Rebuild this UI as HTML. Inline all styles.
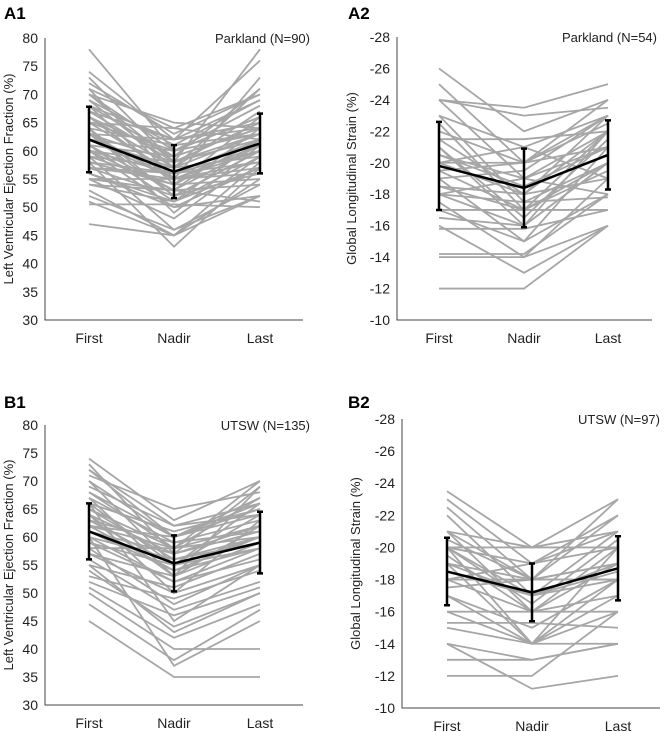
<!DOCTYPE html>
<html><head><meta charset="utf-8"><style>
html,body{margin:0;padding:0;background:#fff;}
svg{display:block;font-family:"Liberation Sans",Arial,sans-serif;}
</style></head><body>
<svg id="chart" width="669" height="732" viewBox="0 0 669 732"></svg>
<script>
const categories = ["First","Nadir","Last"];
// A1 LVEF Parkland (First, Nadir, Last)
const a1Lines = [[78,60,66],[74,62,76],[73,58,78],[72,63,70],[71,55,73],[70,60,68],[70,65,64],[69,57,71],[68,54,66],[67,62,65],[66,59,64],[65,56,62],[65,64,62],[64,52,60],[63,58,65],[62,55,58],[62,60,63],[61,53,64],[60,56,60],[60,50,57],[59,57,63],[58,54,55],[57,52,60],[56,50,52],[55,55,56],[55,48,59],[54,53,51],[53,45,58],[52,46,52],[51,45,55],[50.5,50.5,50],[47,45,52],[58,43,57],[64,49,61],[69,61,69],[66,57,67],[61,51,62],[59,46,54],[63,62,64],[57,56,58],[71,64,70],[68,59,71],[60,53,61],[56,51,59],[67,58,62],[65,60,66],[63,55,61],[62,57,59],[61,59,64],[59,54,62],[58,56,60],[57,55,57],[64,61,63],[66,55,60],[70,58,63],[68,62,69],[60,58,65],[55,53,54],[54,51,57],[63,52,56]];
const a1Mean = [62,56.3,61.3];
const a1Sd = [5.8,4.7,5.3];
// A2 GLS Parkland (absolute, shown negative)
const a2Lines = [[26,22,24],[25,20,23],[24,23.5,25],[24,19,22],[23,21,23],[22.5,17,22],[22,20,21],[21.5,18,23],[21,16,20],[20.5,19,21],[20,18,22],[20,21,19],[19.5,17,20],[19,15,21],[18.5,18,19],[18,16,20],[18,19,18],[17.5,14,19],[17,17,17],[17,15,18],[16.5,16,22],[16,13,16],[15.8,15.8,17],[14.2,14.2,18],[14,14,16],[12,12,16],[21,16.5,21.5],[19,19.5,23],[23,17.5,20],[24,23,23.5],[20,20,24],[18,17.5,17.8],[21.5,21.5,22],[20.5,18.5,21],[19.5,20,22.5],[18.5,17,19.5]];
const a2Mean = [19.8,18.4,20.5];
const a2Sd = [2.8,2.5,2.2];
// B1 LVEF UTSW
const b1Lines = [[74,63,70],[73,57,69],[72,60,67],[71,65,68],[70,55,66],[69,62,64],[68,58,70],[67,53,62],[66,61,65],[65,56,60],[64,50,63],[63,59,61],[62,54,58],[61,57,62],[60,52,56],[59,55,60],[58,48,55],[57,53,59],[56,47,52],[55,51,57],[54,44,50],[53,49,54],[52,46,51],[51,42,48],[50,40,40],[48,38,47],[45,35,35],[60,37,45],[66,45,55],[62,60,64],[58,58,60],[70,60,66],[64,53,69],[55,43,50],[72,62,66],[67,59,63],[65,58,62],[63,55,64],[61,54,60],[60,56,59],[59,52,58],[68,60,65],[64,57,61],[57,50,55],[62,58,67],[66,55,58]];
const b1Mean = [61,55.3,59];
const b1Sd = [5,5,5.5];
// B2 GLS UTSW
const b2Lines = [[23.5,20,23],[23,19,22],[22.5,18,23],[22,17,21],[21,20,21],[21,16,20],[20.5,18,22],[20,19,20],[20,17,19],[19.5,16,19],[19,18,18],[19,14,20],[18.5,17,18],[18,16,17],[18,19,21],[17.5,18,19],[17,15,18],[17,14,16],[16,16,16],[16,14,17],[15.3,15.3,15],[15,14,14],[14,13,14],[14,11.2,12],[13,13,14],[12,12,16],[20,14,18],[20,20,20],[21,18,19],[19,17,18.5],[18,18,18],[20,16.5,20.5]];
const b2Mean = [18.5,17.2,18.7];
const b2Sd = [2.1,1.8,2.0];
const a1Ticks = [30,35,40,45,50,55,60,65,70,75,80];
const glsTicks = [10,12,14,16,18,20,22,24,26,28];

const NS = "http://www.w3.org/2000/svg";
const svg = document.getElementById('chart');
function mk(tag, attrs, parent){const e=document.createElementNS(NS,tag);for(const k in attrs)e.setAttribute(k,attrs[k]);(parent||svg).appendChild(e);return e;}

function panel(p){
  const g = mk('g',{});
  
  
  const y = v => p.yB - (v - p.min)/(p.max - p.min)*(p.yB - p.yT);
  const x = i => p.cats[i];
  const lab = mk('text',{x:p.lx,y:p.ly,'font-size':17,'font-weight':'bold',fill:'#000'},g);
  lab.textContent = p.id.toUpperCase();
  
  
  p.lines.forEach((L)=>{
    const pl = mk('polyline',{points:L.map((v,i)=>x(i)+','+y(v)).join(' '),fill:'none',stroke:'#a6a6a6','stroke-width':1.8},g);
    
    
  });
  const ax = mk('path',{d:`M${p.ax},${p.yT} V${p.yB} H${p.axEnd}`,fill:'none',stroke:'#444','stroke-width':1},g);
  
  
  p.ticks.forEach(t=>{
    const tx = mk('text',{x:p.ax-7,y:y(t)+5,'font-size':14,'text-anchor':'end',fill:'#222'},g);
    tx.textContent = p.neg ? '-'+t : String(t);
    
    
  });
  categories.forEach((c,i)=>{
    const tx = mk('text',{x:x(i),y:p.yB+23,'font-size':14,'text-anchor':'middle',fill:'#222'},g);
    tx.textContent = c;
    
    
  });
  const yt = mk('text',{transform:`translate(${p.tx},${(p.yT+p.yB)/2}) rotate(-90)`,'font-size':13,'text-anchor':'middle',fill:'#222'},g);
  yt.textContent = p.title;
  
  
  const nt = mk('text',{x:p.nx,y:p.yT+5,'font-size':13,'text-anchor':'end',fill:'#222'},g);
  nt.textContent = p.n;
  
  
  p.mean.forEach((m,i)=>{
    const hi=y(m+p.sd[i]), lo=y(m-p.sd[i]);
    const eb = mk('path',{d:`M${x(i)},${hi} V${lo} M${x(i)-3},${hi} H${x(i)+3} M${x(i)-3},${lo} H${x(i)+3}`,stroke:'#000','stroke-width':2.5,fill:'none'},g);
    
    
  });
  const ml = mk('polyline',{points:p.mean.map((v,i)=>x(i)+','+y(v)).join(' '),fill:'none',stroke:'#000','stroke-width':2.5},g);
  
  
}
panel({id:'a1',lines:a1Lines,mean:a1Mean,sd:a1Sd,min:30,max:80,ticks:a1Ticks,neg:false,yT:38,yB:320,ax:45,axEnd:303,cats:[89,174,260],lx:4,ly:19,tx:13,title:'Left Ventricular Ejection Fraction (%)',n:'Parkland (N=90)',nx:310});
panel({id:'a2',lines:a2Lines,mean:a2Mean,sd:a2Sd,min:10,max:28,ticks:glsTicks,neg:true,yT:37,yB:320,ax:397,axEnd:652,cats:[439,524,608],lx:348,ly:19,tx:356,title:'Global Longitudinal Strain (%)',n:'Parkland (N=54)',nx:657});
panel({id:'b1',lines:b1Lines,mean:b1Mean,sd:b1Sd,min:30,max:80,ticks:a1Ticks,neg:false,yT:425,yB:705,ax:45,axEnd:303,cats:[89,174,260],lx:4,ly:408,tx:13,title:'Left Ventricular Ejection Fraction (%)',n:'UTSW (N=135)',nx:310});
panel({id:'b2',lines:b2Lines,mean:b2Mean,sd:b2Sd,min:10,max:28,ticks:glsTicks,neg:true,yT:419,yB:708,ax:402,axEnd:660,cats:[447,532,618],lx:348,ly:408,tx:360,title:'Global Longitudinal Strain (%)',n:'UTSW (N=97)',nx:660});
</script>
</body></html>
